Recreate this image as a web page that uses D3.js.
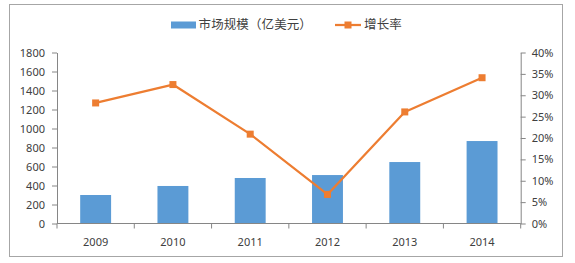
<!DOCTYPE html>
<html>
<head>
<meta charset="utf-8">
<script src="https://cdn.jsdelivr.net/npm/d3@7"></script>
<style>
  body { margin: 0; background: #fff; }
  svg text { font-family: "Noto Sans", "Noto Sans CJK SC", sans-serif; fill: #404040; }
  svg text.legend-label { font-family: "Noto Sans CJK SC", sans-serif; }
</style>
</head>
<body>
<svg id="chart" width="575" height="263"></svg>
<script>
const years = ['2009', '2010', '2011', '2012', '2013', '2014'];
const marketSize = [300, 395, 479, 510, 647, 868];
const growthRate = [0.282, 0.325, 0.209, 0.068, 0.261, 0.341];
const leftTicks = [0, 200, 400, 600, 800, 1000, 1200, 1400, 1600, 1800];
const rightTicks = [0, 0.05, 0.1, 0.15, 0.2, 0.25, 0.3, 0.35, 0.4];
const seriesNames = ['市场规模（亿美元）', '增长率'];

const blue = '#5b9bd5';
const orange = '#ed7d31';
const axisGrey = '#868686';

const svg = d3.select('#chart');
const plot = { left: 57, right: 520.7, top: 52.5, bottom: 223.5 };

// chart frame
svg.append('rect')
  .attr('x', 9.5).attr('y', 4.5)
  .attr('width', 553).attr('height', 252)
  .attr('fill', 'none').attr('stroke', '#a6a6a6');

const x = d3.scaleBand()
  .domain(years)
  .range([plot.left, plot.right])
  .paddingInner(0.6)
  .paddingOuter(0.3);

const yLeft = d3.scaleLinear().domain([0, 1800]).range([plot.bottom, plot.top]);
const yRight = d3.scaleLinear().domain([0, 0.4]).range([plot.bottom, plot.top]);

function styleAxis(g) {
  g.select('.domain').attr('stroke', axisGrey);
  g.selectAll('.tick line').attr('stroke', axisGrey);
  g.selectAll('.tick text').attr('font-size', 11).attr('fill', '#404040');
}

svg.append('g')
  .attr('transform', `translate(${plot.left},0)`)
  .call(d3.axisLeft(yLeft).tickValues(leftTicks).tickSize(5).tickSizeOuter(0)
    .tickPadding(7).tickFormat(d3.format('d')))
  .call(styleAxis);

svg.append('g')
  .attr('transform', `translate(${plot.right},0)`)
  .call(d3.axisRight(yRight).tickValues(rightTicks).tickSize(5).tickSizeOuter(0)
    .tickPadding(6).tickFormat(d3.format('.0%')))
  .call(styleAxis);

// bars
svg.append('g')
  .selectAll('rect')
  .data(years)
  .join('rect')
  .attr('x', d => x(d))
  .attr('width', x.bandwidth())
  .attr('y', (d, i) => yLeft(marketSize[i]))
  .attr('height', (d, i) => plot.bottom - yLeft(marketSize[i]))
  .attr('fill', blue);

// category axis: ticks at band boundaries
const step = x.step();
const boundaries = d3.range(years.length + 1).map(i => plot.left + i * step);
const xAxis = svg.append('g');
xAxis.append('line')
  .attr('x1', plot.left).attr('x2', plot.right)
  .attr('y1', plot.bottom).attr('y2', plot.bottom)
  .attr('stroke', axisGrey);
xAxis.selectAll('line.tk')
  .data(boundaries)
  .join('line')
  .attr('class', 'tk')
  .attr('x1', d => d).attr('x2', d => d)
  .attr('y1', plot.bottom).attr('y2', plot.bottom + 5)
  .attr('stroke', axisGrey);
xAxis.selectAll('text')
  .data(years)
  .join('text')
  .attr('x', d => x(d) + x.bandwidth() / 2)
  .attr('y', 245.5)
  .attr('text-anchor', 'middle')
  .attr('font-size', 11)
  .text(d => d);

// growth line
const cx = d => x(d) + x.bandwidth() / 2;
const line = d3.line()
  .x(d => cx(d))
  .y((d, i) => yRight(growthRate[i]));
svg.append('path')
  .datum(years)
  .attr('d', line)
  .attr('fill', 'none')
  .attr('stroke', orange)
  .attr('stroke-width', 2.25)
  .attr('stroke-linejoin', 'round');
svg.append('g')
  .selectAll('rect')
  .data(years)
  .join('rect')
  .attr('x', d => cx(d) - 3.5)
  .attr('y', (d, i) => yRight(growthRate[i]) - 3.5)
  .attr('width', 7).attr('height', 7)
  .attr('fill', orange);

// legend: each full-width glyph centred in its own 12.6px cell
const legend = svg.append('g');
function legendLabel(text, x0) {
  const advance = 12.6;
  const label = legend.append('text')
    .attr('class', 'legend-label')
    .attr('y', 25).attr('dy', '0.35em')
    .attr('font-size', 12.5);
  label.selectAll('tspan')
    .data(Array.from(text))
    .join('tspan')
    .attr('x', (c, i) => x0 + i * advance + advance / 2)
    .attr('text-anchor', 'middle')
    .text(c => c);
}
legend.append('rect')
  .attr('x', 171).attr('y', 21.5)
  .attr('width', 25).attr('height', 7)
  .attr('fill', blue);
legendLabel(seriesNames[0], 198.5);
legend.append('line')
  .attr('x1', 335).attr('x2', 361).attr('y1', 25).attr('y2', 25)
  .attr('stroke', orange).attr('stroke-width', 2.25);
legend.append('rect')
  .attr('x', 344.5).attr('y', 21.5).attr('width', 7).attr('height', 7)
  .attr('fill', orange);
legendLabel(seriesNames[1], 364);
</script>
</body>
</html>
